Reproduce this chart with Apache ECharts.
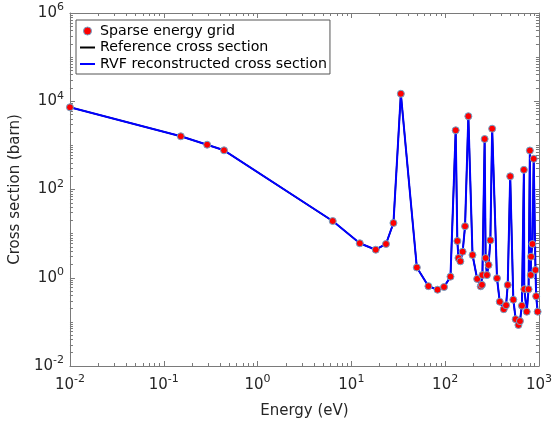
<!DOCTYPE html>
<html>
<head>
<meta charset="utf-8">
<script src="https://cdn.jsdelivr.net/npm/echarts@6/dist/echarts.min.js"></script>
<style>
  html, body { margin: 0; padding: 0; background: #fff; }
  #chart { width: 555px; height: 425px; }
</style>
</head>
<body>
<div id="chart"></div>
<script>
// sparse energy grid (eV) and cross section (barn)
var energy = [
  0.01, 0.152, 0.290, 0.439, 6.33, 12.3, 18.2, 23.4, 28.1, 33.7,
  49.9, 66.3, 82.9, 97.3, 114, 129.5, 134.9, 138.6, 145.2, 153.6,
  163, 176.7, 195.8, 219.5, 239.6, 246.7, 249.6, 263.6, 270, 278.8,
  290.3, 303.4, 317, 357, 382, 421.5, 446, 464.5, 493.6, 533,
  564.5, 604, 627, 658, 691, 698, 741, 775, 800, 817,
  823, 853, 879, 918, 934, 968
];
var xs = [
  7300, 1607, 1035, 773, 19.3, 6.04, 4.32, 5.82, 17.4, 14800,
  1.71, 0.645, 0.536, 0.617, 1.06, 2197, 6.81, 2.80, 2.36, 3.89,
  14.7, 4581, 3.28, 0.94, 0.64, 0.69, 1.15, 1395, 2.80, 1.15,
  1.95, 7.06, 2388, 0.973, 0.286, 0.194, 0.238, 0.686, 199, 0.318,
  0.115, 0.085, 0.104, 0.233, 279, 0.551, 0.170, 0.551, 765, 1.15,
  3.0, 5.82, 496, 1.50, 0.382, 0.170
];

var xMin = 0.01, xMax = 1000;
var yMin = 0.01, yMax = 1e6;

var points = energy.map(function (e, i) { return [e, xs[i]]; });

function minorTicks(d0, d1, withDecades) {
  var out = [];
  for (var d = d0; d <= d1; d++) {
    if (withDecades && d % 2 !== 0) out.push(Math.pow(10, d));
    for (var m = 2; m <= 9; m++) out.push(Number((m * Math.pow(10, d)).toPrecision(6)));
  }
  return out;
}
var xMinor = minorTicks(-2, 2, false);
var yMinor = minorTicks(-2, 5, true);

var axisColor = '#7a7a7a';
var textColor = '#262626';
var font = 'DejaVu Sans';

function powLabel(v) {
  var e = Math.round(Math.log10(v));
  return '{b|10}{s|' + e + '}';
}
var labelRich = {
  b: { fontSize: 15, fontFamily: font, color: textColor },
  s: { fontSize: 11, fontFamily: font, color: textColor, padding: [0, 0, 11, 0] }
};

function xAxisDef(pos, minor) {
  return {
    type: 'log', logBase: 10, min: xMin, max: xMax, position: pos,
    axisLine: { show: !minor, lineStyle: { color: axisColor, width: 1 } },
    axisTick: minor
      ? { show: true, inside: true, length: 3, customValues: xMinor, lineStyle: { color: axisColor } }
      : { show: true, inside: true, length: 5, lineStyle: { color: axisColor } },
    axisLabel: (pos === 'bottom' && !minor)
      ? { show: true, margin: 8, formatter: powLabel, rich: labelRich }
      : { show: false },
    splitLine: { show: false },
    minorTick: { show: false }
  };
}
function yAxisDef(pos, minor) {
  return {
    type: 'log', logBase: 100, min: yMin, max: yMax, position: pos,
    axisLine: { show: !minor, lineStyle: { color: axisColor, width: 1 } },
    axisTick: minor
      ? { show: true, inside: true, length: 3, customValues: yMinor, lineStyle: { color: axisColor } }
      : { show: true, inside: true, length: 5, lineStyle: { color: axisColor } },
    axisLabel: (pos === 'left' && !minor)
      ? { show: true, margin: 6, formatter: powLabel, rich: labelRich }
      : { show: false },
    splitLine: { show: false },
    minorTick: { show: false }
  };
}

var xMain = xAxisDef('bottom', false);
xMain.name = 'Energy (eV)';
xMain.nameLocation = 'middle';
xMain.nameGap = 38;
xMain.nameTextStyle = { fontSize: 15, fontFamily: font, color: textColor };

var yMain = yAxisDef('left', false);
yMain.name = 'Cross section (barn)';
yMain.nameLocation = 'middle';
yMain.nameGap = 37;
yMain.nameTextStyle = { fontSize: 15, fontFamily: font, color: textColor };

var chart = echarts.init(document.getElementById('chart'), null, { renderer: 'canvas' });
chart.setOption({
  backgroundColor: '#fff',
  animation: false,
  grid: { left: 66, right: 16, top: 13, bottom: 59 },
  legend: {
    orient: 'vertical',
    left: 76, top: 20,
    padding: [4, 3, 3, 3],
    itemGap: 2.5,
    itemWidth: 15,
    itemHeight: 8,
    backgroundColor: '#fff',
    borderColor: '#555',
    borderWidth: 1,
    borderRadius: 0,
    textStyle: { fontSize: 14.2, fontFamily: font, color: '#000' },
    data: [
      { name: 'Sparse energy grid', icon: 'circle', itemStyle: { color: '#ff0000', borderColor: '#6fa3c8', borderWidth: 1 } },
      { name: 'Reference cross section', itemStyle: { opacity: 0 } },
      { name: 'RVF reconstructed cross section', itemStyle: { opacity: 0 } }
    ]
  },
  xAxis: [xMain, xAxisDef('bottom', true), xAxisDef('top', false), xAxisDef('top', true)],
  yAxis: [yMain, yAxisDef('left', true), yAxisDef('right', false), yAxisDef('right', true)],
  series: [
    {
      name: 'Reference cross section',
      type: 'line',
      data: points,
      symbol: 'none',
      lineStyle: { color: '#000', width: 1.5 },
      itemStyle: { color: '#000' },
      z: 1
    },
    {
      name: 'RVF reconstructed cross section',
      type: 'line',
      data: points,
      symbol: 'none',
      lineStyle: { color: '#0000ff', width: 2 },
      itemStyle: { color: '#0000ff' },
      z: 2
    },
    {
      name: 'Sparse energy grid',
      type: 'scatter',
      data: points,
      symbol: 'circle',
      symbolSize: 7,
      itemStyle: { color: '#ff0000', borderColor: '#6fa3c8', borderWidth: 1, opacity: 1 },
      z: 3
    }
  ]
});
</script>
</body>
</html>
